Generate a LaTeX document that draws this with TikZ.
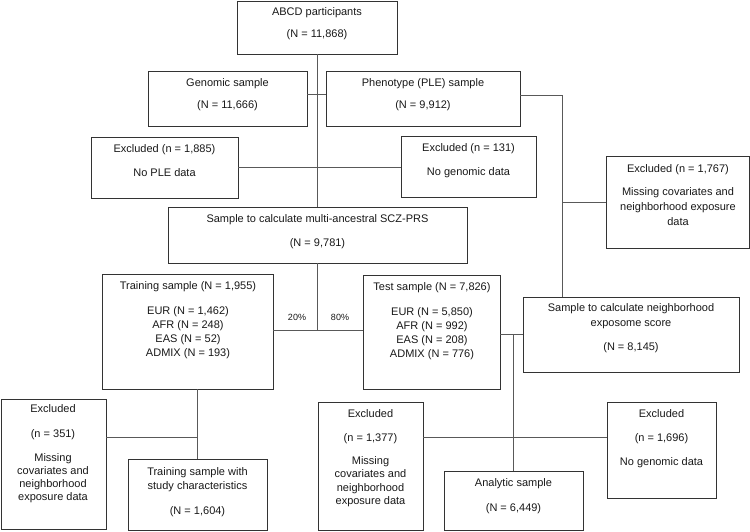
\documentclass[tikz,border=0pt]{standalone}
\usepackage{fontspec}
\setmainfont{Liberation Sans}
\newcommand\mkbox[5]{\node[box, minimum width={(#4-#2)*1pt}, minimum height={(#5-#3)*1pt}] (#1) at ({(#2+#4)/2},{(#3+#5)/2}) {};}
\begin{document}
\begin{tikzpicture}[x=1pt,y=-1pt,
  box/.style={draw=black!80, line width=0.9pt, inner sep=0, fill=white},
  conn/.style={draw=black!65, line width=0.9pt},
  txt/.style={align=center, inner sep=0, font=\fontsize{11}{14}\selectfont, text=black!90}]
\useasboundingbox[fill=white] (0,0) rectangle (750,532);
% boxes
\mkbox{abcd}{237}{1}{397}{54}
\mkbox{gen}{148}{71}{307}{126}
\mkbox{phe}{326}{71}{520}{126}
\mkbox{exa}{91}{137}{238}{198}
\mkbox{exb}{401}{136}{536}{197}
\mkbox{exc}{606}{156}{749}{248}
\mkbox{scz}{168}{207}{467}{263}
\mkbox{train}{102}{274}{273}{389}
\mkbox{test}{363}{275}{500}{389}
\mkbox{neigh}{523}{297}{739}{372}
\mkbox{exd}{1}{399}{106}{529}
\mkbox{trstudy}{128}{459}{267}{530}
\mkbox{exe}{318}{402}{423}{530}
\mkbox{analytic}{444}{471}{583}{530}
\mkbox{exf}{607}{402}{716}{498}
% texts
\node[txt] (abcdT) at (317,24) {ABCD participants\\[8pt](N = 11,868)};
\node[txt] (genT) at (227.5,95) {Genomic sample\\[8pt](N = 11,666)};
\node[txt] (pheT) at (423,95) {Phenotype (PLE) sample\\[8pt](N = 9,912)};
\node[txt] (exaT) at (164.5,161) {Excluded (n = 1,885)\\[10pt]No PLE data};
\node[txt] (exbT) at (468.5,160.5) {Excluded (n = 131)\\[10pt]No genomic data};
\node[txt, font=\fontsize{11}{15}\selectfont] (excT) at (678,195.5) {Excluded (n = 1,767)\\[8pt]Missing covariates and\\neighborhood exposure\\data};
\node[txt] (sczT) at (317.5,232) {Sample to calculate multi-ancestral SCZ-PRS\\[10pt](N = 9,781)};
\node[txt] (trainT) at (188,320.5) {Training sample (N = 1,955)\\[11pt]EUR (N = 1,462)\\AFR (N = 248)\\EAS (N = 52)\\ADMIX (N = 193)};
\node[txt] (testT) at (432,321.5) {Test sample (N = 7,826)\\[11pt]EUR (N = 5,850)\\AFR (N = 992)\\EAS (N = 208)\\ADMIX (N = 776)};
\node[txt, font=\fontsize{11}{15}\selectfont] (neighT) at (631,328.5) {Sample to calculate neighborhood\\exposome score\\[9pt](N = 8,145)};
\node[txt, font=\fontsize{11}{13}\selectfont] (exdT) at (53,454) {Excluded\\[12pt](n = 351)\\[11pt]Missing\\covariates and\\neighborhood\\exposure data};
\node[txt] (trstudyT) at (197.5,492.5) {Training sample with\\study characteristics\\[11pt](N = 1,604)};
\node[txt, font=\fontsize{11}{13.5}\selectfont] (exeT) at (370.5,458) {Excluded\\[10.5pt](n = 1,377)\\[9.5pt]Missing\\covariates and\\neighborhood\\exposure data};
\node[txt] (analyticT) at (513.5,496.5) {Analytic sample\\[11pt](N = 6,449)};
\node[txt] (exfT) at (661.5,439) {Excluded\\[10pt](n = 1,696)\\[10pt]No genomic data};
\node[txt, font=\fontsize{9}{11}\selectfont] (p20) at (297,317) {20\%};
\node[txt, font=\fontsize{9}{11}\selectfont] (p80) at (340,317) {80\%};
% junctions
\coordinate (j1) at (562,95);
\coordinate (j2) at (197.5,437);
\coordinate (j3) at (513,334);
\coordinate (j4) at (513,437);
\coordinate (j5) at (317,330);
% connectors
\begin{scope}[on background layer/.try]
\end{scope}
\draw[conn] (abcd.south) -- (abcd.south |- scz.north);
\draw[conn] ([yshift=4.5pt]gen.east) -- ([yshift=4.5pt]gen.east -| phe.west);
\draw[conn] (exa.east |- 0,167) -- (exb.west |- 0,167);
\draw[conn] (phe.east |- j1) -- (j1) -- (j1 |- neigh.north);
\draw[conn] (j1 |- exc.west) -- (exc.west);
\draw[conn] (abcd.south |- scz.south) -- (abcd.south |- j5);
\draw[conn] (train.east |- j5) -- (test.west |- j5);
\draw[conn] (train.south -| trstudy.north) -- (trstudy.north);
\draw[conn] (exd.east |- j2) -- (j2);
\draw[conn] (test.east |- j3) -- (neigh.west |- j3);
\draw[conn] (j3) -- (j3 |- analytic.north);
\draw[conn] (exe.east |- j4) -- (exf.west |- j4);
\end{tikzpicture}
\end{document}
